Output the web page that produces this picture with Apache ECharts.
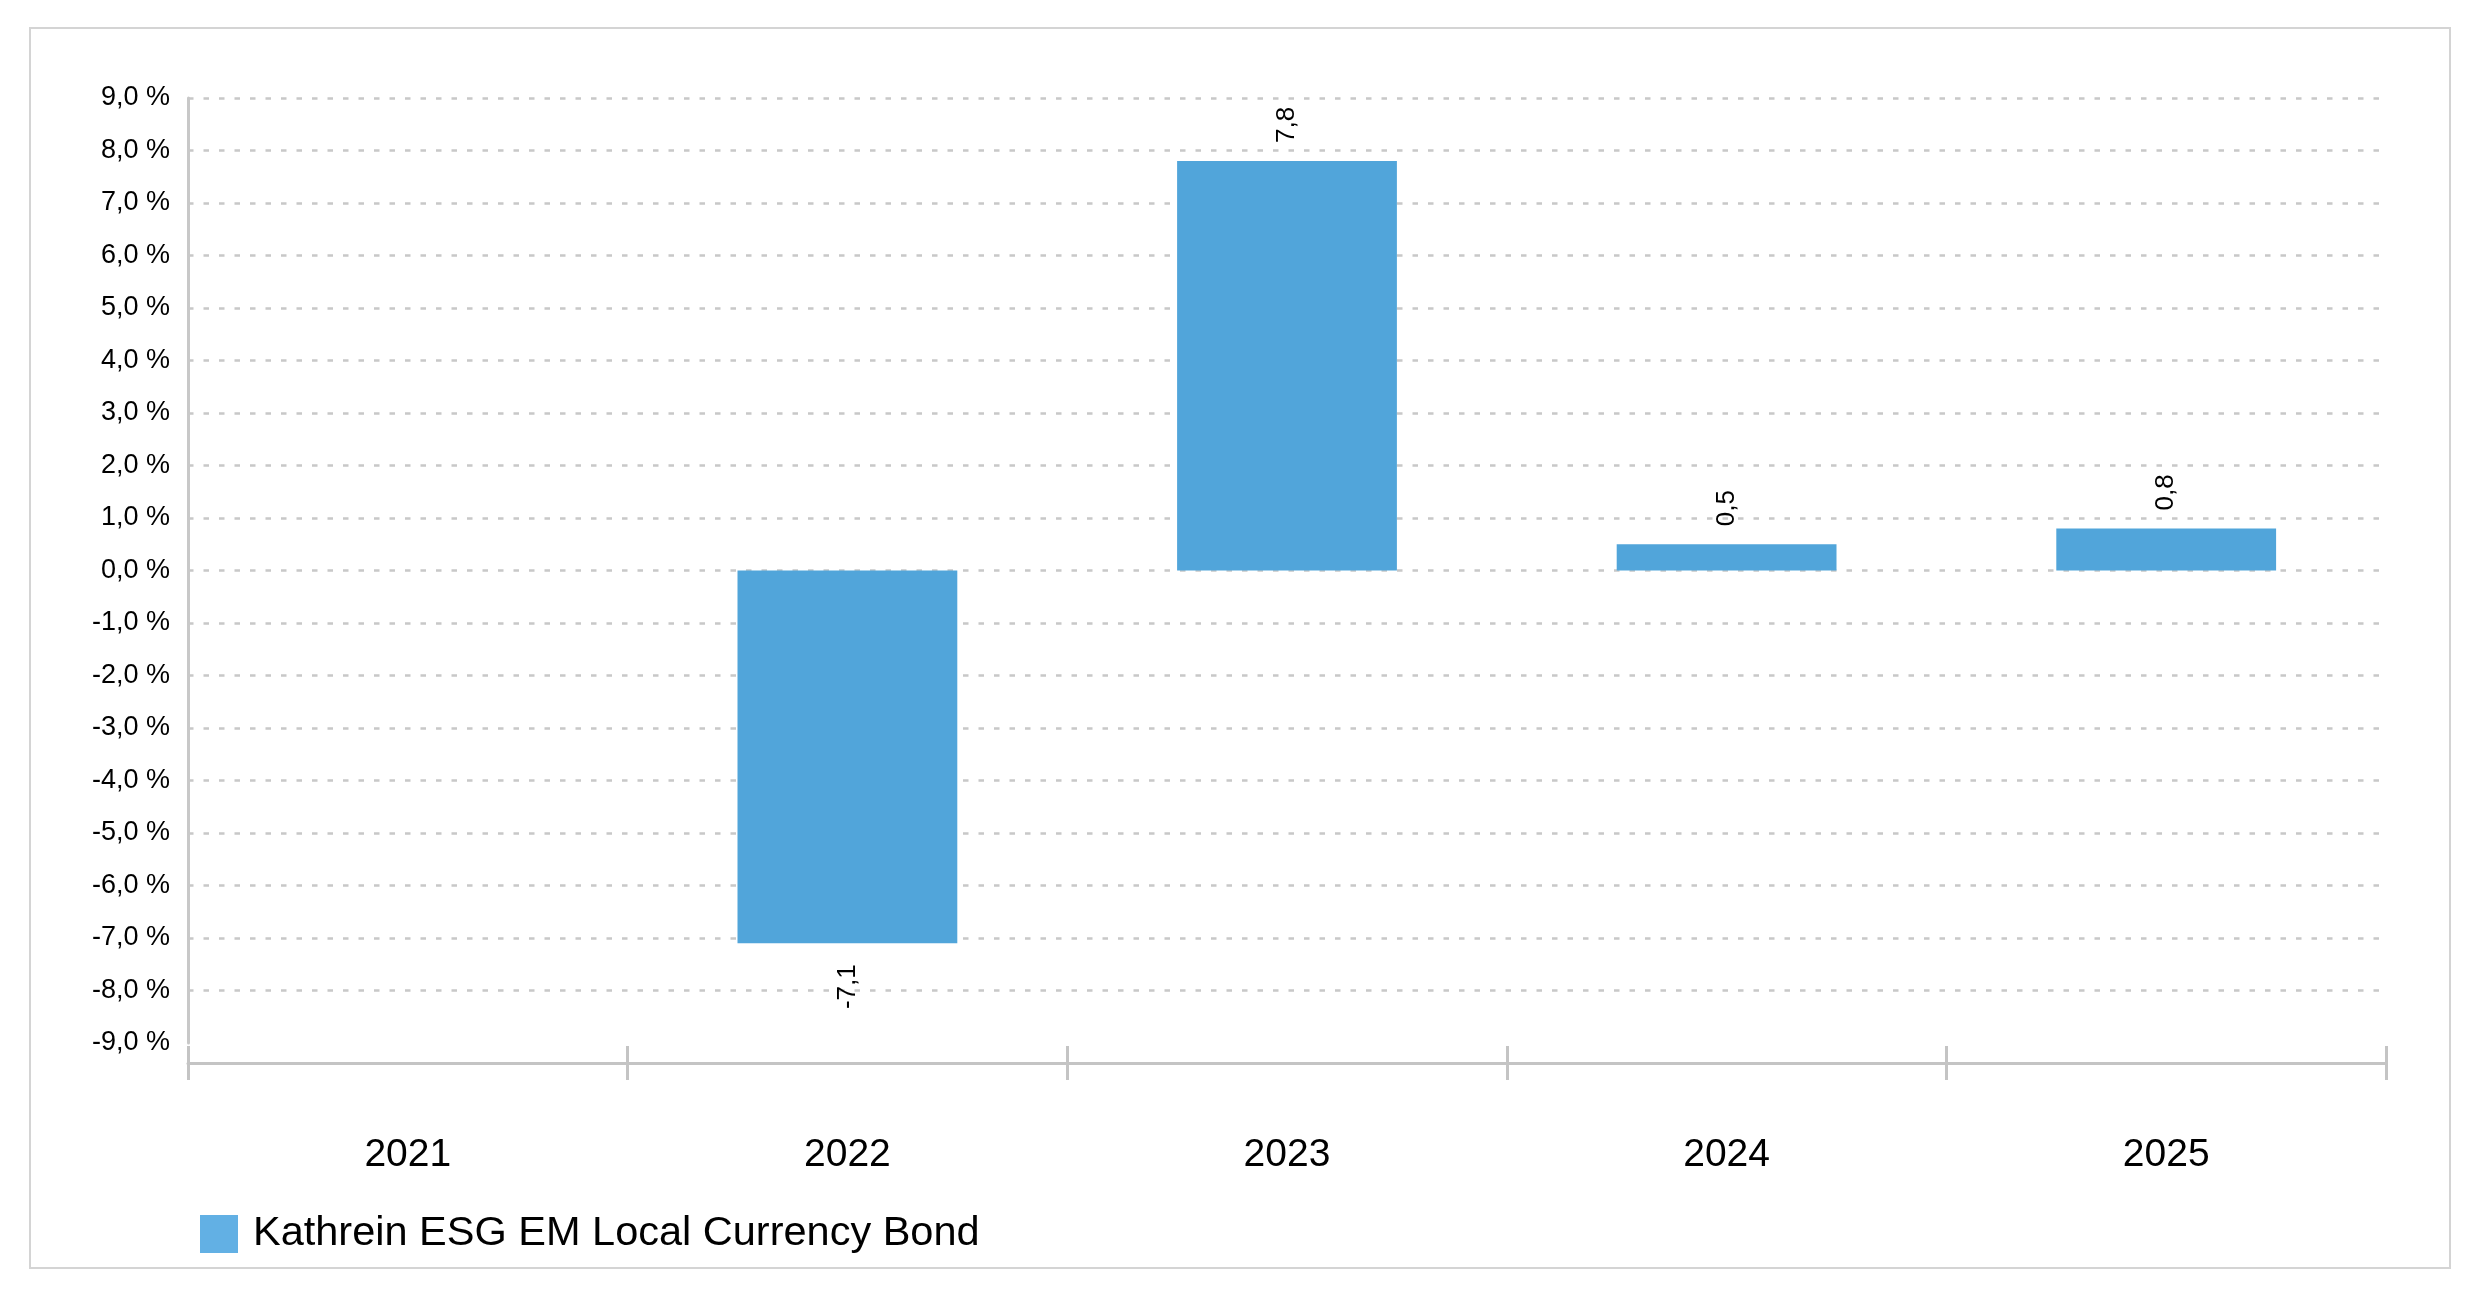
<!DOCTYPE html>
<html>
<head>
<meta charset="utf-8">
<script src="https://cdn.jsdelivr.net/npm/echarts@6/dist/echarts.min.js"></script>
<style>
html,body{margin:0;padding:0;background:#fff;}
#chart{width:2480px;height:1299px;}
</style>
</head>
<body>
<div id="chart"></div>
<script>
const categories = ['2021', '2022', '2023', '2024', '2025'];
const seriesName = 'Kathrein ESG EM Local Currency Bond';
const values = [null, -7.1, 7.8, 0.5, 0.8];
const yMin = -9, yMax = 9, yInterval = 1;

const FONT = "'Liberation Sans', Arial, sans-serif";
const barColor = '#51a5da';
const legendColor = '#62b0e4';
const gridColor = '#c8c8c8';

const posLabel = { position: 'top', distance: 18, align: 'left', verticalAlign: 'middle' };
const negLabel = { position: 'bottom', distance: 21, align: 'right', verticalAlign: 'middle' };

const barData = values.map(v => v == null ? '-' : { value: v, label: v < 0 ? negLabel : posLabel });

const chart = echarts.init(document.getElementById('chart'), null, { renderer: 'canvas' });
chart.setOption({
  backgroundColor: '#fff',
  animation: false,
  textStyle: { fontFamily: FONT },
  graphic: [{
    type: 'rect', z: -10, silent: true,
    shape: { x: 30, y: 28, width: 2420, height: 1240 },
    style: { fill: 'none', stroke: '#d4d4d4', lineWidth: 2 }
  }],
  grid: { left: 188, right: 94, top: 98, bottom: 256, containLabel: false },
  legend: {
    left: 200, top: 1213, padding: 0,
    itemWidth: 38, itemHeight: 38, icon: 'rect',
    textStyle: { fontSize: 41.5, color: '#000', fontFamily: FONT, padding: [0, 0, 0, 10] },
    data: [{ name: seriesName, itemStyle: { color: legendColor } }]
  },
  xAxis: [{
    type: 'category', data: categories, position: 'bottom', offset: 3,
    boundaryGap: true,
    axisLine: { show: false, onZero: false },
    axisTick: { show: true, interval: 0, length: 34, lineStyle: { color: '#c4c4c4', width: 3 } },
    axisLabel: { margin: 90, fontSize: 39, color: '#000', fontFamily: FONT },
    splitLine: { show: false }
  }, {
    type: 'category', data: categories, position: 'bottom', offset: 20,
    axisLine: { show: true, onZero: false, lineStyle: { color: '#c4c4c4', width: 3 } },
    axisTick: { show: false },
    axisLabel: { show: false },
    splitLine: { show: false }
  }],
  yAxis: {
    type: 'value', min: yMin, max: yMax, interval: yInterval,
    axisLine: { show: true, lineStyle: { color: gridColor, width: 3 } },
    axisTick: { show: false },
    axisLabel: {
      margin: 18, fontSize: 27, color: '#000', fontFamily: FONT,
      formatter: v => v.toFixed(1).replace('.', ',') + ' %'
    },
    splitLine: {
      show: true, showMinLine: false,
      lineStyle: { color: gridColor, width: 2.5, type: [5.5, 10] }
    }
  },
  series: [{
    name: seriesName, type: 'bar', xAxisIndex: 0,
    data: barData, barWidth: '50%',
    itemStyle: { color: barColor },
    label: {
      show: true, rotate: 90, fontSize: 26, color: '#000', fontFamily: FONT,
      formatter: p => Number(p.value).toFixed(1).replace('.', ',')
    }
  }]
});
</script>
</body>
</html>
